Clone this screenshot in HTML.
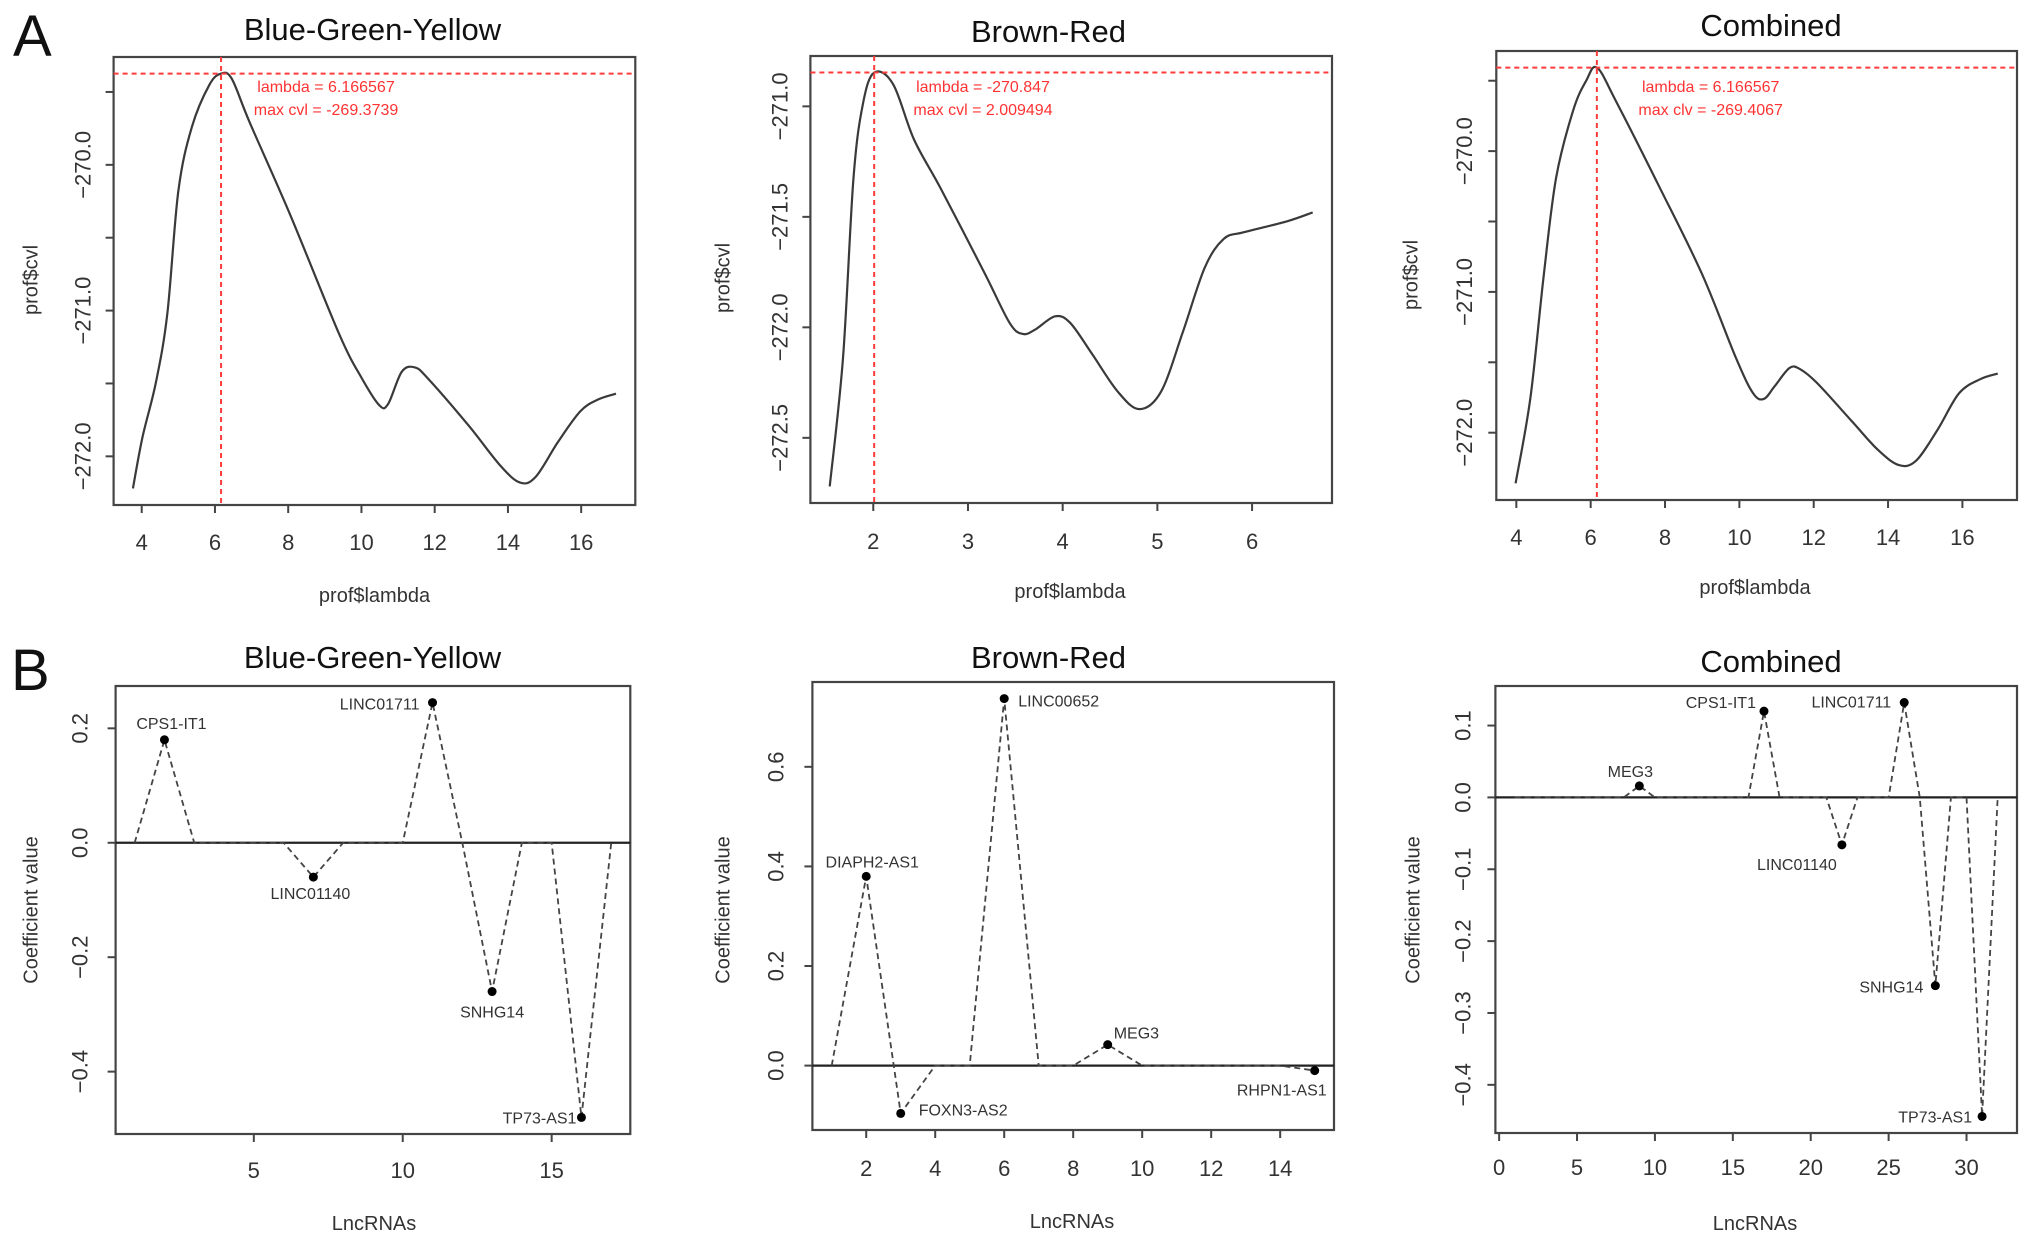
<!DOCTYPE html>
<html><head><meta charset="utf-8"><style>
html,body{margin:0;padding:0;background:#fff}
svg{display:block;font-family:"Liberation Sans",Arial,sans-serif}
</style></head><body>
<svg id="fig" width="2031" height="1240" viewBox="0 0 2031 1240" xmlns="http://www.w3.org/2000/svg">
<text x="13" y="56" font-size="58" fill="#111">A</text>
<text x="11" y="690" font-size="58" fill="#111">B</text>
</svg>
<script>
// ---- Panel A data (profile CV likelihood curves) ----
const a1Lambda = [3.76,4.02,4.39,4.70,5.00,5.37,5.85,6.17,6.46,6.95,8.05,9.39,10.0,10.49,10.73,11.1,11.46,11.83,12.93,13.78,14.33,14.76,15.37,15.98,16.46,16.95];
const a1Cvl = [-272.22,-271.87,-271.49,-271.02,-270.18,-269.74,-269.45,-269.374,-269.41,-269.71,-270.34,-271.16,-271.46,-271.65,-271.64,-271.42,-271.39,-271.47,-271.79,-272.06,-272.18,-272.14,-271.90,-271.69,-271.61,-271.57];
const a2Lambda = [1.54,1.68,1.79,1.89,2.01,2.21,2.43,2.71,3.17,3.44,3.58,3.71,3.92,4.08,4.31,4.58,4.81,5.04,5.27,5.50,5.70,5.91,6.37,6.64];
const a2Cvl = [-272.72,-272.14,-271.33,-270.99,-270.847,-270.90,-271.15,-271.37,-271.75,-271.98,-272.03,-272.01,-271.95,-271.98,-272.12,-272.29,-272.37,-272.29,-272.02,-271.73,-271.60,-271.57,-271.52,-271.48];
const a3Lambda = [3.98,4.38,4.73,5.07,5.53,5.88,6.17,6.69,7.84,8.99,9.91,10.37,10.66,10.95,11.35,11.64,12.1,13.03,13.72,14.29,14.75,15.33,15.91,16.48,16.95];
const a3Cvl = [-272.36,-271.75,-270.90,-270.19,-269.71,-269.50,-269.407,-269.65,-270.25,-270.87,-271.47,-271.72,-271.76,-271.67,-271.54,-271.55,-271.65,-271.92,-272.12,-272.23,-272.20,-271.98,-271.72,-271.62,-271.58];
const aXTicks1 = [4,6,8,10,12,14,16];
const aXTicks2 = [2,3,4,5,6];
const aYTicks1 = [-269.5,-270,-270.5,-271,-271.5,-272];
const aYLabels1 = ["","\u2212270.0","","\u2212271.0","","\u2212272.0"];
const aYTicks2 = [-271,-271.5,-272,-272.5];
const aYLabels2 = ["\u2212271.0","\u2212271.5","\u2212272.0","\u2212272.5"];
const a1Best = [6.166567,-269.3739];
const a2Best = [2.009494,-270.847];
const a3Best = [6.166567,-269.4067];
const a1Text = ["lambda = 6.166567","max cvl = -269.3739"];
const a2Text = ["lambda = -270.847","max cvl = 2.009494"];
const a3Text = ["lambda = 6.166567","max clv = -269.4067"];
// ---- Panel B data (coefficients) ----
const b1Coef = [0,0.18,0,0,0,0,-0.06,0,0,0,0.245,0,-0.26,0,0,-0.48,0];
const b2Coef = [0,0.38,-0.096,0,0,0.737,0,0,0.042,0,0,0,0,0,-0.01];
const b3Coef = [0,0,0,0,0,0,0,0,0.016,0,0,0,0,0,0,0,0.12,0,0,0,0,-0.066,0,0,0,0.132,0,-0.262,0,0,-0.444,0];
const b1Names = {2:"CPS1-IT1",7:"LINC01140",11:"LINC01711",13:"SNHG14",16:"TP73-AS1"};
const b2Names = {2:"DIAPH2-AS1",3:"FOXN3-AS2",6:"LINC00652",9:"MEG3",15:"RHPN1-AS1"};
const b3Names = {9:"MEG3",17:"CPS1-IT1",22:"LINC01140",26:"LINC01711",28:"SNHG14",31:"TP73-AS1"};
const b1XTicks = [5,10,15];
const b2XTicks = [2,4,6,8,10,12,14];
const b3XTicks = [0,5,10,15,20,25,30];
const b1YTicks = [0.2,0,-0.2,-0.4];
const b2YTicks = [0,0.2,0.4,0.6];
const b3YTicks = [0.1,0,-0.1,-0.2,-0.3,-0.4];

const NS="http://www.w3.org/2000/svg";
const svg=document.getElementById('fig');
function mk(tag,attrs,parent){const e=document.createElementNS(NS,tag);for(const k in attrs)e.setAttribute(k,attrs[k]);(parent||svg).appendChild(e);return e;}
function scale(d0,d1,p0,p1){return v=>p0+(v-d0)/(d1-d0)*(p1-p0);}
function ext(arr){let lo=Math.min(...arr),hi=Math.max(...arr);const p=(hi-lo)*0.04;return [lo-p,hi+p];}

function frame(g,L,T,R,B,id){
  const r=mk('rect',{x:L,y:T,width:R-L,height:B-T,fill:'none',stroke:'#444','stroke-width':2.2},g);
  
  
}
function axes(g,sx,sy,L,T,R,B,xt,xl,yt,yl,xBase,yCx,id){
  const xa=mk('g',{},g);
  
  
  xt.forEach((v,i)=>{const x=sx(v);
    mk('line',{x1:x,y1:B,x2:x,y2:B+8,stroke:'#444','stroke-width':2},xa);
    const t=mk('text',{x:x,y:xBase,'font-size':22,'text-anchor':'middle',fill:'#333'},xa);t.textContent=xl[i];
    
    
  });
  const ya=mk('g',{},g);
  
  
  yt.forEach((v,i)=>{const y=sy(v);
    mk('line',{x1:L,y1:y,x2:L-8,y2:y,stroke:'#444','stroke-width':2},ya);
    if(yl[i]){const t=mk('text',{x:0,y:0,'font-size':22,'text-anchor':'middle','dominant-baseline':'central',fill:'#333',transform:`translate(${yCx},${y}) rotate(-90)`},ya);t.textContent=yl[i];
    
    }
  });
}
function labels(g,title,tx,tBase,xlab,xlx,xlBase,ylab,ylx,ycy,id){
  const t=mk('text',{x:tx,y:tBase,'font-size':31,'text-anchor':'middle',fill:'#111'},g);t.textContent=title;
  
  
  const xl=mk('text',{x:xlx,y:xlBase,'font-size':20,'text-anchor':'middle',fill:'#333'},g);xl.textContent=xlab;
  
  
  const yl=mk('text',{x:0,y:0,'font-size':20,'text-anchor':'middle','dominant-baseline':'central',fill:'#333',transform:`translate(${ylx},${ycy}) rotate(-90)`},g);yl.textContent=ylab;
  
  
}

function panelA(o){
  const g=mk('g',{});
  
  
  const [x0,x1]=ext(o.lx),[y0,y1]=ext(o.cv);
  const sx=scale(x0,x1,o.L,o.R), sy=scale(y0,y1,o.B,o.T);
  frame(g,o.L,o.T,o.R,o.B,o.id);
  axes(g,sx,sy,o.L,o.T,o.R,o.B,o.xt,o.xt.map(String),o.yt,o.yl,o.xBase,o.yCx,o.id);
  const P=o.lx.map((v,i)=>[sx(v),sy(o.cv[i])]);
  let d=`M${P[0][0]},${P[0][1]}`;
  for(let i=0;i<P.length-1;i++){const p0=P[Math.max(0,i-1)],p1=P[i],p2=P[i+1],p3=P[Math.min(P.length-1,i+2)];
    d+=` C${p1[0]+(p2[0]-p0[0])/6},${p1[1]+(p2[1]-p0[1])/6} ${p2[0]-(p3[0]-p1[0])/6},${p2[1]-(p3[1]-p1[1])/6} ${p2[0]},${p2[1]}`;}
  const c=mk('path',{d:d,fill:'none',stroke:'#3a3a3a','stroke-width':2.2},g);
  
  
  const bx=sx(o.best[0]), by=sy(o.best[1]);
  const v=mk('line',{x1:bx,y1:o.T,x2:bx,y2:o.B,stroke:'#ff3b3b','stroke-width':2,'stroke-dasharray':'5,4'},g);
  
  
  const h=mk('line',{x1:o.L,y1:by,x2:o.R,y2:by,stroke:'#ff3b3b','stroke-width':2,'stroke-dasharray':'5,4'},g);
  
  
  o.txt.forEach((s,i)=>{const t=mk('text',{x:o.tcx,y:92+23*i,'font-size':16,'text-anchor':'middle',fill:'#ff3333'},g);t.textContent=s;
    
    });
  labels(g,o.title,o.tx,o.tBase,'prof$lambda',o.xlx,o.xlBase,'prof$cvl',o.ylx,o.ycy,o.id);
}

function panelB(o){
  const g=mk('g',{});
  
  
  const idx=o.coef.map((_,i)=>i+1);
  const [x0,x1]=ext(idx),[y0,y1]=ext(o.coef);
  const sx=scale(x0,x1,o.L,o.R), sy=scale(y0,y1,o.B,o.T);
  frame(g,o.L,o.T,o.R,o.B,o.id);
  axes(g,sx,sy,o.L,o.T,o.R,o.B,o.xt,o.xt.map(String),o.yt,o.yt.map(v=>(v<0?'\u2212':'')+Math.abs(v).toFixed(1)),o.xBase,o.yCx,o.id);
  const z=mk('line',{x1:o.L,y1:sy(0),x2:o.R,y2:sy(0),stroke:'#222','stroke-width':2.2},g);
  
  
  const pts=o.coef.map((v,i)=>`${sx(i+1)},${sy(v)}`).join(' ');
  const pl=mk('polyline',{points:pts,fill:'none',stroke:'#444','stroke-width':1.8,'stroke-dasharray':'6,4'},g);
  
  
  o.coef.forEach((v,i)=>{const n=o.names[i+1];if(!n)return;
    const cx=sx(i+1),cy=sy(v);
    const dot=mk('circle',{cx:cx,cy:cy,r:4.5,fill:'#000'},g);
    
    
    const off=o.off[n];
    const t=mk('text',{x:cx+off[0],y:cy+off[1],'font-size':16,'text-anchor':off[2],fill:'#333'},g);t.textContent=n;
    
    
  });
  labels(g,o.title,o.tx,o.tBase,'LncRNAs',o.xlx,o.xlBase,'Coefficient value',o.ylx,o.ycy,o.id);
}

panelA({id:'panel-a1',lx:a1Lambda,cv:a1Cvl,L:113.6,T:57,R:635.3,B:505,xt:aXTicks1,yt:aYTicks1,yl:aYLabels1,xBase:550,yCx:83,best:a1Best,txt:a1Text,tcx:326,title:'Blue-Green-Yellow',tx:372.5,tBase:40,xlx:374.5,xlBase:602,ylx:31.6,ycy:280});
panelA({id:'panel-a2',lx:a2Lambda,cv:a2Cvl,L:810.4,T:56,R:1332,B:503,xt:aXTicks2,yt:aYTicks2,yl:aYLabels2,xBase:549,yCx:780,best:a2Best,txt:a2Text,tcx:983,title:'Brown-Red',tx:1048.5,tBase:42,xlx:1070,xlBase:598,ylx:723.5,ycy:278});
panelA({id:'panel-a3',lx:a3Lambda,cv:a3Cvl,L:1496.3,T:51,R:2017,B:500,xt:aXTicks1,yt:aYTicks1,yl:aYLabels1,xBase:545,yCx:1464.7,best:a3Best,txt:a3Text,tcx:1710.7,title:'Combined',tx:1771,tBase:36,xlx:1755,xlBase:594,ylx:1411.4,ycy:275});

panelB({id:'panel-b1',coef:b1Coef,names:b1Names,L:115.6,T:686,R:630.3,B:1134,xt:b1XTicks,yt:b1YTicks,xBase:1178,yCx:80,title:'Blue-Green-Yellow',tx:372.5,tBase:668,xlx:374,xlBase:1230,ylx:31.6,ycy:910,
  off:{"CPS1-IT1":[7,-11,'middle'],"LINC01140":[-3,22,'middle'],"LINC01711":[-13,7,'end'],"SNHG14":[0,26,'middle'],"TP73-AS1":[-5,6,'end']}});
panelB({id:'panel-b2',coef:b2Coef,names:b2Names,L:812.4,T:682,R:1334,B:1130,xt:b2XTicks,yt:b2YTicks,xBase:1176,yCx:776,title:'Brown-Red',tx:1048.5,tBase:668,xlx:1072,xlBase:1228,ylx:723.5,ycy:910,
  off:{"DIAPH2-AS1":[6,-9,'middle'],"FOXN3-AS2":[18,2,'start'],"LINC00652":[14,8,'start'],"MEG3":[6,-6,'start'],"RHPN1-AS1":[12,25,'end']}});
panelB({id:'panel-b3',coef:b3Coef,names:b3Names,L:1495.4,T:686,R:2017,B:1133,xt:b3XTicks,yt:b3YTicks,xBase:1175,yCx:1463,title:'Combined',tx:1771,tBase:672,xlx:1755,xlBase:1230,ylx:1413.4,ycy:910,
  off:{"MEG3":[-9,-9,'middle'],"CPS1-IT1":[-8,-3,'end'],"LINC01140":[-45,25,'middle'],"LINC01711":[-13,5,'end'],"SNHG14":[-12,7,'end'],"TP73-AS1":[-10,6,'end']}});
</script>
</body></html>
